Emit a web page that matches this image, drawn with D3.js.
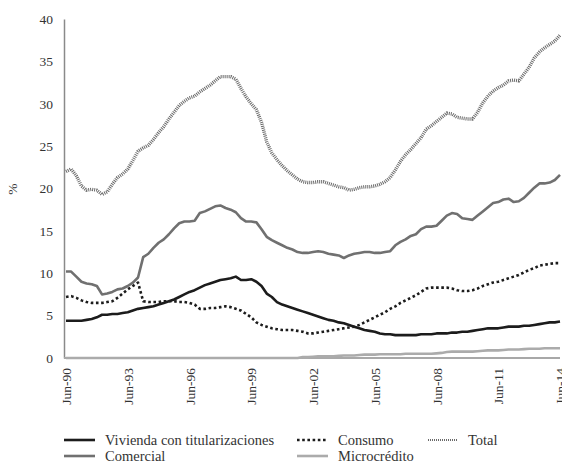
<!DOCTYPE html>
<html>
<head>
<meta charset="utf-8">
<script src="https://cdn.jsdelivr.net/npm/d3@7"></script>
<style>
  html, body { margin: 0; padding: 0; background: #fff; }
  svg { display: block; }
  text { font-family: "Liberation Serif", "DejaVu Serif", serif; fill: #333; }
</style>
</head>
<body>
<svg id="chart" width="562" height="464"></svg>
<script>
// Quarterly observations, Jun-90 (index 0) to Jun-14 (index 96)
const tickLabels = ["Jun-90","Jun-93","Jun-96","Jun-99","Jun-02","Jun-05","Jun-08","Jun-11","Jun-14"];
const yTicks = [0,5,10,15,20,25,30,35,40];

const vivienda = [4.4,4.4,4.4,4.4,4.5,4.6,4.8,5.1,5.1,5.2,5.2,5.3,5.4,5.6,5.8,5.9,6.0,6.1,6.3,6.5,
  6.7,6.9,7.2,7.5,7.8,8.0,8.3,8.6,8.8,9.0,9.2,9.3,9.4,9.6,9.2,9.2,9.3,9.0,8.5,7.6,
  7.2,6.6,6.3,6.1,5.9,5.7,5.5,5.3,5.1,4.9,4.7,4.5,4.4,4.2,4.1,3.9,3.7,3.5,3.3,3.2,
  3.1,2.9,2.8,2.8,2.7,2.7,2.7,2.7,2.7,2.8,2.8,2.8,2.9,2.9,2.9,3.0,3.0,3.1,3.1,3.2,
  3.3,3.4,3.5,3.5,3.5,3.6,3.7,3.7,3.7,3.8,3.8,3.9,4.0,4.1,4.2,4.2,4.3];

const consumo = [7.2,7.3,7.1,6.8,6.6,6.5,6.5,6.5,6.6,6.7,7.1,7.6,8.1,8.5,8.9,6.7,6.6,6.6,6.6,6.7,
  6.7,6.7,6.6,6.6,6.5,6.3,5.8,5.8,5.9,5.9,6.0,6.1,6.0,5.8,5.6,5.2,4.8,4.2,3.9,3.7,
  3.5,3.4,3.3,3.3,3.3,3.2,3.1,2.9,2.9,3.0,3.1,3.2,3.3,3.4,3.5,3.6,3.7,3.9,4.2,4.5,
  4.8,5.1,5.4,5.8,6.1,6.5,6.8,7.1,7.4,7.8,8.2,8.3,8.3,8.3,8.3,8.2,8.0,7.9,7.9,8.0,
  8.2,8.5,8.7,8.9,9.0,9.2,9.4,9.6,9.8,10.1,10.4,10.6,10.9,11.0,11.1,11.2,11.2];

const total = [22.0,22.3,21.5,20.3,19.8,19.9,19.8,19.3,19.6,20.5,21.3,21.7,22.3,23.3,24.4,24.8,25.1,25.8,26.6,27.3,
  28.2,29.0,29.8,30.3,30.7,30.9,31.4,31.8,32.2,32.7,33.2,33.2,33.2,32.9,31.8,30.8,30.0,29.3,27.8,25.5,
  24.2,23.4,22.7,22.1,21.6,21.1,20.8,20.7,20.7,20.8,20.8,20.6,20.4,20.2,20.1,19.8,19.9,20.1,20.2,20.2,
  20.3,20.5,20.8,21.3,22.2,23.2,24.0,24.6,25.3,26.0,27.0,27.4,27.9,28.4,28.9,28.8,28.4,28.3,28.2,28.2,
  29.0,30.1,30.9,31.5,31.9,32.2,32.7,32.8,32.7,33.5,34.3,35.4,36.1,36.6,37.0,37.4,38.1];

const comercial = [10.2,10.2,9.6,9.0,8.8,8.7,8.5,7.5,7.6,7.8,8.1,8.2,8.5,8.9,9.5,11.9,12.3,13.0,13.6,14.0,
  14.6,15.3,15.9,16.1,16.1,16.2,17.1,17.3,17.6,17.9,18.0,17.7,17.5,17.2,16.5,16.1,16.1,16.0,15.2,14.3,
  13.9,13.6,13.3,13.0,12.8,12.5,12.4,12.4,12.5,12.6,12.5,12.3,12.2,12.1,11.8,12.1,12.3,12.4,12.5,12.5,
  12.4,12.4,12.5,12.6,13.3,13.7,14.0,14.4,14.6,15.2,15.5,15.5,15.6,16.2,16.8,17.1,17.0,16.5,16.4,16.3,
  16.8,17.3,17.8,18.3,18.4,18.7,18.8,18.4,18.5,18.9,19.5,20.1,20.6,20.6,20.7,21.0,21.6];

const microcredito = [0,0,0,0,0,0,0,0,0,0,0,0,0,0,0,0,0,0,0,0,
  0,0,0,0,0,0,0,0,0,0,0,0,0,0,0,0,0,0,0,0,
  0,0,0,0,0,0,0.1,0.1,0.15,0.2,0.2,0.2,0.2,0.25,0.3,0.3,0.3,0.35,0.4,0.4,
  0.4,0.45,0.45,0.45,0.45,0.45,0.5,0.5,0.5,0.5,0.5,0.5,0.55,0.6,0.7,0.75,0.75,0.75,0.75,0.75,
  0.8,0.85,0.9,0.9,0.9,0.95,1.0,1.0,1.0,1.05,1.1,1.1,1.1,1.15,1.15,1.15,1.15];

const seriesNames = ["Vivienda con titularizaciones","Consumo","Total","Comercial","Microcrédito"];

const svg = d3.select("#chart");
const x = d3.scaleLinear().domain([0, 96]).range([66, 560]);
const y = d3.scaleLinear().domain([0, 40]).range([358, 19]);

const styles = {
  "Vivienda con titularizaciones": {data: vivienda, color: "#1c1c1c", width: 2.6, dash: null},
  "Consumo": {data: consumo, color: "#1c1c1c", width: 2.6, dash: "2.6,2.6"},
  "Total": {data: total, color: "#6a6a6a", width: 3.4, dash: "1,1"},
  "Comercial": {data: comercial, color: "#707070", width: 2.6, dash: null},
  "Microcrédito": {data: microcredito, color: "#ababab", width: 2.6, dash: null}
};

// Axes
const yAxis = d3.axisLeft(y).tickValues(yTicks).tickSize(0).tickPadding(11).tickFormat(d3.format("d"));
const gy = svg.append("g").attr("transform", "translate(64,0)").call(yAxis);
gy.select(".domain").attr("stroke", "#8a8a8a").attr("stroke-width", 1.5);
gy.selectAll("text").style("font-size", "13.5px").style("font-family", "Liberation Serif, serif").attr("fill", "#333");

const tickIdx = tickLabels.map((d, i) => i * 12);
const xAxis = d3.axisBottom(x).tickValues(tickIdx).tickSize(0).tickFormat((d, i) => tickLabels[i]);
const gx = svg.append("g").attr("transform", "translate(0,358)").call(xAxis);
gx.select(".domain").attr("stroke", "#a8a8a8").attr("stroke-width", 2).attr("d", "M64,0H560");
gx.selectAll("text")
  .attr("transform", "rotate(-90)")
  .attr("x", -10).attr("y", 0).attr("dy", "0.35em")
  .style("text-anchor", "end")
  .style("font-size", "13.5px").style("font-family", "Liberation Serif, serif").attr("fill", "#333");

svg.append("text").attr("transform", "translate(17,189) rotate(-90)")
  .style("text-anchor", "middle").style("font-size", "13.5px").text("%");

// Lines
const line = d3.line().x((d, i) => x(i)).y(d => y(d));
const drawOrder = ["Microcrédito","Total","Comercial","Consumo","Vivienda con titularizaciones"];
drawOrder.forEach(name => {
  const s = styles[name];
  svg.append("path").datum(s.data)
    .attr("fill", "none").attr("stroke", s.color).attr("stroke-width", s.width)
    .attr("stroke-linejoin", "round")
    .attr("stroke-dasharray", s.dash)
    .attr("d", line);
});

// Legend
const legendPos = [
  {name: "Vivienda con titularizaciones", x: 64, y: 440},
  {name: "Consumo", x: 297, y: 440},
  {name: "Total", x: 428, y: 440},
  {name: "Comercial", x: 64, y: 456},
  {name: "Microcrédito", x: 297, y: 456}
];
legendPos.forEach(p => {
  const s = styles[p.name];
  const w = p.name === "Total" ? 30 : 31;
  svg.append("line").attr("x1", p.x).attr("x2", p.x + w).attr("y1", p.y).attr("y2", p.y)
    .attr("stroke", s.color).attr("stroke-width", p.name === "Total" ? 2.2 : s.width)
    .attr("stroke-dasharray", s.dash);
  svg.append("text").attr("x", p.x + (p.name === "Total" ? 40 : 41)).attr("y", p.y).attr("dy", "0.35em")
    .style("font-size", "14.5px").text(p.name);
});
</script>
</body>
</html>
